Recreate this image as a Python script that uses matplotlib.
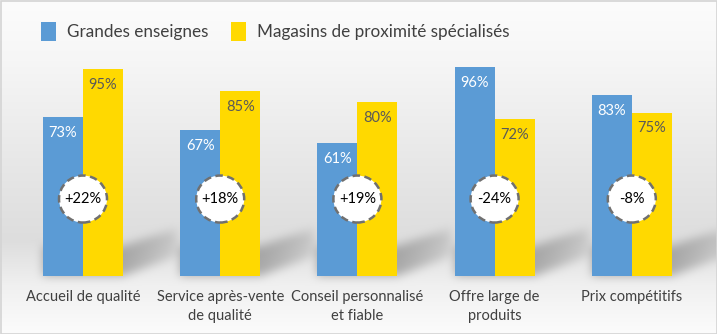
import matplotlib.pyplot as plt
from matplotlib.patches import Ellipse, Rectangle
from matplotlib.path import Path
import numpy as np

plt.rcParams['font.family'] = ['Lato', 'DejaVu Sans']

categories = ['Accueil de qualité', 'Service après-vente\nde qualité',
              'Conseil personnalisé\net fiable', 'Offre large de\nproduits',
              'Prix compétitifs']
grandes = [73, 67, 61, 96, 83]
proximite = [95, 85, 80, 72, 75]
series_names = ['Grandes enseignes', 'Magasins de proximité spécialisés']

BLUE = '#5B9BD5'
YELLOW = '#FFD900'
W, H = 717, 334

fig = plt.figure(figsize=(W / 100, H / 100), dpi=100)
ax = fig.add_axes([14.4 / W, 58 / H, 686 / W, 218 / H])
ax.set_xlim(-0.5, 4.5)
ax.set_ylim(0, 100)
ax.patch.set_alpha(0)

x = np.arange(len(categories))
w = 40 / 137.2

# background: soft vertical grey gradient
rows = np.arange(H)
grey = np.interp(rows, [0, 60, 150, 240, 285, 334], [252, 246, 233, 221, 240, 252]) / 255.0
img = np.repeat(grey[:, None], W, axis=1)

# floor shadows cast by each bar pair, blurred
yy, xx = np.mgrid[0:H, 0:W]
pts = np.column_stack([xx.ravel() + 0.5, yy.ravel() + 0.5])
mask = np.zeros(H * W)
for xi in x:
    xl, yb = ax.transData.transform((xi - w, 0))
    xr, _ = ax.transData.transform((xi + w, 0))
    yb = H - yb
    poly = Path([(xl, yb), (xr, yb), (xr + 54, yb - 20), (xr + 54, yb - 48),
                 (xr, yb - 30), (xl, yb - 30)])
    inside = poly.contains_points(pts).astype(float)
    fade = np.clip(1 - (pts[:, 0] - xr) / 65.0, 0, 1) ** 0.7
    mask += inside * np.where(pts[:, 0] > xr, fade, 1.0)
mask = mask.reshape(H, W)


def box_blur(a, r):
    for axis in (0, 1):
        c = np.cumsum(np.pad(a, [(r + 1, r) if i == axis else (0, 0) for i in range(2)],
                             mode='edge'), axis=axis)
        if axis == 0:
            a = (c[2 * r + 1:] - c[:-2 * r - 1]) / (2 * r + 1)
        else:
            a = (c[:, 2 * r + 1:] - c[:, :-2 * r - 1]) / (2 * r + 1)
    return a


for _ in range(3):
    mask = box_blur(mask, 4)
img = img * (1 - 0.27 * np.clip(mask, 0, 1))

bg = fig.add_axes([0, 0, 1, 1], zorder=-1)
bg.imshow(np.dstack([img] * 3), aspect='auto', extent=(0, W, H, 0))
bg.axis('off')

b1 = ax.bar(x - w / 2, grandes, w, color=BLUE, label=series_names[0], zorder=2)
b2 = ax.bar(x + w / 2, proximite, w, color=YELLOW, label=series_names[1], zorder=2)

for xi, v in zip(x, grandes):
    ax.text(xi - w / 2, v - 7.3, f'{v}%', ha='center', va='center',
            color='white', fontsize=10.5, zorder=3)
for xi, v in zip(x, proximite):
    ax.text(xi + w / 2, v - 7.3, f'{v}%', ha='center', va='center',
            color='#595959', fontsize=10.5, zorder=3)

# difference bubbles
for xi, a, b in zip(x, grandes, proximite):
    ax.add_patch(Ellipse((xi, 35.3), 2 * 24 / 137.2, 2 * 23.5 / 2.18,
                         facecolor='white', edgecolor='#707070', lw=1.8,
                         linestyle=(0, (3, 1.8)), zorder=4))
    ax.text(xi, 35.3, f'{b - a:+d}%', ha='center', va='center',
            color='black', fontsize=10.5, zorder=5)

ax.set_xticks(x)
ax.set_xticklabels(categories, fontsize=10.5, color='#404040', linespacing=1.45)
ax.tick_params(axis='x', length=0, pad=10)
ax.set_yticks([])
for s in ax.spines.values():
    s.set_visible(False)

fig.legend(handles=[b1, b2], loc='upper left', bbox_to_anchor=(41 / W, 1 - 22 / H),
           ncol=2, frameon=False, fontsize=12.3, borderpad=0, borderaxespad=0,
           handlelength=0.9, handleheight=1.3, handletextpad=0.6,
           columnspacing=1.35, labelcolor='#404040')

fig.patches.append(Rectangle((0.5 / W, 0.5 / H), 1 - 1 / W, 1 - 1 / H,
                             transform=fig.transFigure, fill=False,
                             edgecolor='#d4d4d4', lw=1.2))

fig.savefig('out.png', dpi=100)
